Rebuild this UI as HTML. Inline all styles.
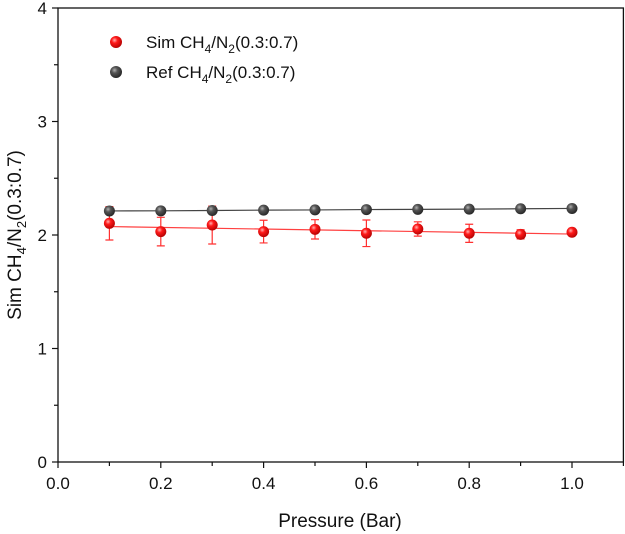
<!DOCTYPE html>
<html><head><meta charset="utf-8"><style>body{margin:0;background:#fff}svg{display:block;font-family:"Liberation Sans",Arial,sans-serif}</style></head>
<body>
<svg id="chart" width="625" height="534" viewBox="0 0 625 534" xmlns="http://www.w3.org/2000/svg">
<defs>
<radialGradient id="gRed" cx="0.38" cy="0.35" r="0.7"><stop offset="0" stop-color="#ffb0b0"/><stop offset="0.35" stop-color="#ff1a1a"/><stop offset="1" stop-color="#b00000"/></radialGradient>
<radialGradient id="gGray" cx="0.38" cy="0.35" r="0.7"><stop offset="0" stop-color="#b0b0b0"/><stop offset="0.35" stop-color="#555"/><stop offset="1" stop-color="#222"/></radialGradient>
</defs>
<g id="axes"></g>
<g id="series"></g>
<g>
<circle cx="116" cy="42" r="6" fill="url(#gRed)"/>
<text x="146" y="48" font-size="17" fill="#111">Sim CH<tspan font-size="12" dy="5">4</tspan><tspan dy="-5">/N</tspan><tspan font-size="12" dy="5">2</tspan><tspan dy="-5">(0.3:0.7)</tspan></text>
<circle cx="116" cy="72" r="6" fill="url(#gGray)"/>
<text x="146" y="78" font-size="17" fill="#111">Ref CH<tspan font-size="12" dy="5">4</tspan><tspan dy="-5">/N</tspan><tspan font-size="12" dy="5">2</tspan><tspan dy="-5">(0.3:0.7)</tspan></text>
</g>
<text x="340" y="527" font-size="19" text-anchor="middle" fill="#111">Pressure (Bar)</text>
<text transform="translate(21,235) rotate(-90)" font-size="19" text-anchor="middle" fill="#111">Sim CH<tspan font-size="13" dy="5">4</tspan><tspan dy="-5">/N</tspan><tspan font-size="13" dy="5">2</tspan><tspan dy="-5">(0.3:0.7)</tspan></text>
</svg>
<script>
const pressure = [0.1,0.2,0.3,0.4,0.5,0.6,0.7,0.8,0.9,1.0];
const simValues = [2.103,2.03,2.088,2.03,2.05,2.015,2.053,2.015,2.006,2.024];
const simErrors = [0.147,0.126,0.167,0.1,0.085,0.117,0.063,0.08,0.04,0.02];
const refValues = [2.212,2.213,2.216,2.219,2.221,2.224,2.226,2.228,2.231,2.234];
const xTicks = [0,0.2,0.4,0.6,0.8,1.0];
const xTickLabels = ["0.0","0.2","0.4","0.6","0.8","1.0"];
const yTicks = [0,1,2,3,4];
const yTickLabels = ["0","1","2","3","4"];

const X0=58, XS=514, Y0=462, YS=113.5;
const xs = v => X0 + v*XS;
const ys = v => Y0 - v*YS;
const NS="http://www.w3.org/2000/svg";
function mk(tag, attrs, parent){const e=document.createElementNS(NS,tag);for(const k in attrs)e.setAttribute(k,attrs[k]);parent.appendChild(e);return e;}
const axes=document.getElementById('axes'), ser=document.getElementById('series');
const xMax=1.1, yMax=4;
let e;
e=mk('rect',{x:xs(0),y:ys(yMax),width:xs(xMax)-xs(0),height:ys(0)-ys(yMax),fill:'none',stroke:'#111','stroke-width':1.3},axes);


for(let v=0;v<=xMax+1e-9;v+=0.1){
  const major=Math.abs(v*5-Math.round(v*5))<1e-6;
  e=mk('line',{x1:xs(v),x2:xs(v),y1:Y0,y2:Y0+(major?6:4),stroke:'#111','stroke-width':1.2},axes);
  
  
}
xTicks.forEach((v,i)=>{
  e=mk('text',{x:xs(v),y:Y0+27,'font-size':17,'text-anchor':'middle',fill:'#111'},axes);
  e.textContent=xTickLabels[i];
  
  
});
for(let v=0;v<=yMax+1e-9;v+=0.5){
  const major=Math.abs(v-Math.round(v))<1e-6;
  e=mk('line',{x1:X0,x2:X0-(major?6:4),y1:ys(v),y2:ys(v),stroke:'#111','stroke-width':1.2},axes);
  
  
}
yTicks.forEach((v,i)=>{
  e=mk('text',{x:X0-11,y:ys(v)+6,'font-size':17,'text-anchor':'end',fill:'#111'},axes);
  e.textContent=yTickLabels[i];
  
  
});
function fit(xsArr,yArr){const n=xsArr.length;let sx=0,sy=0,sxx=0,sxy=0;for(let i=0;i<n;i++){sx+=xsArr[i];sy+=yArr[i];sxx+=xsArr[i]*xsArr[i];sxy+=xsArr[i]*yArr[i];}const b=(n*sxy-sx*sy)/(n*sxx-sx*sx);return [ (sy-b*sx)/n, b];}
// ref line
e=mk('polyline',{points:pressure.map((p,i)=>xs(p)+','+ys(refValues[i])).join(' '),fill:'none',stroke:'#444','stroke-width':1.2},ser);


// sim fit line
const [a,b]=fit(pressure,simValues);
const p0=pressure[0], p1=pressure[pressure.length-1];
e=mk('line',{x1:xs(p0),y1:ys(a+b*p0),x2:xs(p1),y2:ys(a+b*p1),stroke:'#ff4040','stroke-width':1.2},ser);


pressure.forEach((p,i)=>{
  const x=xs(p), yt=ys(simValues[i]+simErrors[i]), yb=ys(simValues[i]-simErrors[i]);
  e=mk('path',{d:`M${x},${yt}V${yb}M${x-4},${yt}H${x+4}M${x-4},${yb}H${x+4}`,stroke:'#ff3030','stroke-width':1.2,fill:'none'},ser);
  
  
});
pressure.forEach((p,i)=>{
  e=mk('circle',{cx:xs(p),cy:ys(refValues[i]),r:5.5,fill:'url(#gGray)'},ser);
  
  
});
pressure.forEach((p,i)=>{
  e=mk('circle',{cx:xs(p),cy:ys(simValues[i]),r:5.5,fill:'url(#gRed)'},ser);
  
  
});
</script>
</body></html>
